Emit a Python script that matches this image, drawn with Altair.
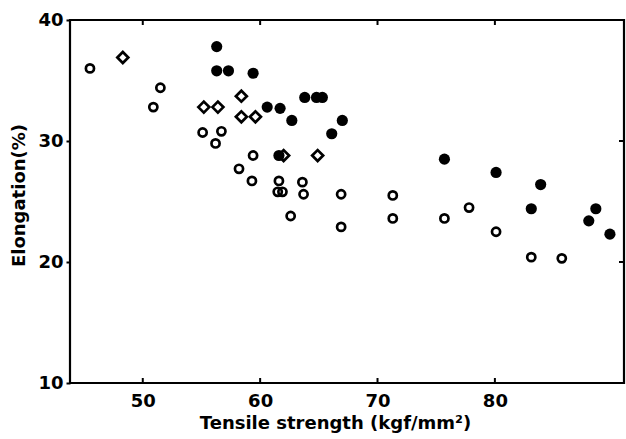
import altair as alt
import pandas as pd

# Open circles
open_x = [45.5, 51.5, 50.9, 55.1, 56.7, 56.2, 59.4, 58.2, 59.3, 61.6, 61.5, 61.9,
          63.6, 63.7, 66.9, 71.3, 62.6, 71.3, 66.9, 75.7, 77.8, 80.1, 83.1, 85.7]
open_y = [36.0, 34.4, 32.8, 30.7, 30.8, 29.8, 28.8, 27.7, 26.7, 26.7, 25.8, 25.8,
          26.6, 25.6, 25.6, 25.5, 23.8, 23.6, 22.9, 23.6, 24.5, 22.5, 20.4, 20.3]

# Filled circles
fill_x = [56.3, 56.3, 57.3, 59.4, 60.6, 61.7, 62.7, 63.8, 64.8, 65.3, 67.0, 66.1,
          61.6, 75.7, 80.1, 83.9, 83.1, 88.0, 88.6, 89.8]
fill_y = [37.8, 35.8, 35.8, 35.6, 32.8, 32.7, 31.7, 33.6, 33.6, 33.6, 31.7, 30.6,
          28.8, 28.5, 27.4, 26.4, 24.4, 23.4, 24.4, 22.3]

# Open diamonds
dia_x = [48.3, 55.2, 56.4, 58.4, 58.4, 59.6, 62.0, 64.9]
dia_y = [36.9, 32.8, 32.8, 33.7, 32.0, 32.0, 28.8, 28.8]

x_ticks = [50, 60, 70, 80]
y_ticks = [10, 20, 30, 40]
x_domain = [43.8, 91.0]
y_domain = [10, 40]

W, H = 554, 363

df_open = pd.DataFrame({"x": open_x, "y": open_y})
df_fill = pd.DataFrame({"x": fill_x, "y": fill_y})
df_dia = pd.DataFrame({"x": dia_x, "y": dia_y})
df_xt = pd.DataFrame({"x": x_ticks})
df_yt = pd.DataFrame({"y": y_ticks})

FONT = "DejaVu Sans"
text_style = dict(labelFont=FONT, titleFont=FONT, labelFontSize=18, titleFontSize=18,
                  labelColor="black", titleColor="black", labelFontWeight="bold",
                  titleFontWeight="bold")

xscale = alt.Scale(domain=x_domain, nice=False, zero=False)
yscale = alt.Scale(domain=y_domain, nice=False, zero=False)

xenc = alt.X("x:Q", scale=xscale,
             axis=alt.Axis(values=x_ticks, title="Tensile strength (kgf/mm²)",
                           domain=False, ticks=False, grid=False, labelPadding=9,
                           titlePadding=4, titleX=265, titleAlign="center", **text_style))
yenc = alt.Y("y:Q", scale=yscale,
             axis=alt.Axis(values=y_ticks, title="Elongation(%)", domain=False,
                           tickSize=4, tickWidth=2, tickColor="black", grid=False,
                           labelPadding=3, titlePadding=9, titleY=175, **text_style))

base_x = alt.X("x:Q", scale=xscale)
base_y = alt.Y("y:Q", scale=yscale)

open_layer = alt.Chart(df_open).mark_point(
    shape="circle", filled=False, stroke="black", strokeWidth=2.7, size=66, opacity=1
).encode(x=xenc, y=yenc)

fill_layer = alt.Chart(df_fill).mark_point(
    shape="circle", filled=True, fill="black", size=125, opacity=1
).encode(x=base_x, y=base_y)

dia_layer = alt.Chart(df_dia).mark_point(
    shape="diamond", filled=False, stroke="black", strokeWidth=2.7, size=120, opacity=1
).encode(x=base_x, y=base_y)

bottom_ticks = alt.Chart(df_xt).mark_rule(color="black", strokeWidth=2).encode(
    x=base_x, y=alt.value(H), y2=alt.value(H - 5))
top_ticks = alt.Chart(df_xt).mark_rule(color="black", strokeWidth=2).encode(
    x=base_x, y=alt.value(0), y2=alt.value(5))
right_ticks = alt.Chart(df_yt).mark_rule(color="black", strokeWidth=2).encode(
    y=base_y, x=alt.value(W), x2=alt.value(W - 5))

chart = alt.layer(open_layer, fill_layer, dia_layer, bottom_ticks, top_ticks, right_ticks).properties(
    width=W, height=H,
    autosize=alt.AutoSizeParams(type="none"),
    padding={"left": 70, "top": 20, "right": 2, "bottom": 56},
    background="white",
).configure_view(
    stroke="black", strokeWidth=2.2
)

chart.save("out.html", embed_options={"renderer": "svg", "actions": False})
